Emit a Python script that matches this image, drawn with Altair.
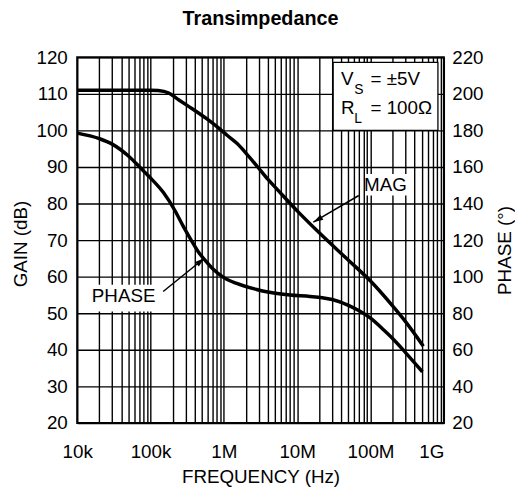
import altair as alt
import pandas as pd

# ---- data ----
mag_freq = [1e4, 3e4, 1e5, 1.27e5, 1.74e5, 2.37e5, 3.23e5, 4.41e5, 6.01e5, 8.2e5, 1.12e6,
            1.52e6, 2e6, 2.84e6, 4e6, 5e6, 1e7, 2e7, 5e7, 1e8, 2e8, 3e8, 5.25e8]
mag_gain = [111, 111, 111, 110.9, 110.3, 108.5, 106.7, 104.9, 103.0, 100.9, 98.6,
            96.4, 93.8, 90.2, 86.6, 84.5, 78, 72, 64.5, 58.8, 52.0, 47.7, 41]

phase_freq = [1e4, 2e4, 3e4, 5e4, 7.5e4, 1e5, 1.5e5, 2.15e5, 2.8e5, 3.58e5, 4.5e5,
              5.5e5, 7e5, 1e6, 1.5e6, 2.8e6, 4e6, 8e6, 1.5e7, 2.2e7, 3e7, 5e7,
              7e7, 1e8, 1.5e8, 2e8, 3e8, 5.1e8]
phase_deg = [178.5, 175.5, 172.5, 166, 159, 154, 146, 136.2, 127.5, 120, 113.5,
             109.2, 104.5, 99.5, 96.3, 93, 91.6, 90, 89.2, 88.5, 87.5, 84.3,
             81.3, 77.3, 71, 66.2, 58.5, 48]

x_ticks = [float(m * 10 ** e) for e in range(4, 9) for m in range(1, 10)] + [1e9]
x_names = ["10k", "100k", "1M", "10M", "100M", "1G"]
gain_ticks = list(range(20, 121, 10))
phase_ticks = list(range(20, 221, 20))

# annotations (in data coordinates: frequency, gain dB)
legend_box = pd.DataFrame({"f1": [3.1e7], "f2": [8.3e8], "g1": [100], "g2": [118.6]})
label_boxes = pd.DataFrame({"f1": [8.5e7, 1.24e4], "f2": [3.27e8, 1.4e5],
                            "g1": [82.2, 50.5], "g2": [88.1, 57.8]})
labels = pd.DataFrame({"f": [1.6e8, 4.3e4], "g": [83.5, 52.97], "t": ["MAG", "PHASE"]})
arrows = pd.DataFrame({"f1": [6.93e7, 1.488e5], "g1": [82.2, 55.95],
                       "f2": [1.66e7, 5.47e5], "g2": [74.9, 65.1],
                       "ang": [239.6, 51.0]})
leg_main = pd.DataFrame({"f": [3.96e7, 1e8, 3.96e7, 1e8], "g": [112.35, 112.35, 104.5, 104.5],
                         "t": ["V", "= \u00b15V", "R", "= 100\u03a9"]})
leg_sub = pd.DataFrame({"f": [5.99e7, 5.99e7], "g": [110.08, 102.0], "t": ["S", "L"]})

FONT = "Liberation Sans"
FS = 19

label_expr = "".join(
    f"abs(log(datum.value) / log(10) - {i + 4}) < 0.001 ? '{n}' : "
    for i, n in enumerate(x_names)) + "''"

xscale = alt.Scale(type="log", domain=[1e4, 1e9])
gscale = alt.Scale(domain=[20, 120], nice=False, zero=False)
pscale = alt.Scale(domain=[20, 220], nice=False, zero=False)

x_axis = alt.Axis(values=x_ticks, grid=True, gridColor="black", gridWidth=1.4, gridOpacity=1,
                  ticks=False, domain=False, labelExpr=label_expr, labelFontSize=FS,
                  labelColor="black", labelPadding=20, labelFlush=False, labelOverlap=False,
                  labelAlign={"condition": {"test": "datum.value > 9.5e8", "value": "right"},
                              "value": "center"},
                  title="FREQUENCY (Hz)",
                  titleFontSize=FS, titleFontWeight="normal", titleColor="black",
                  titleX=185.5, titleY=60.5, titleBaseline="alphabetic", titleAlign="center")

g_axis = alt.Axis(values=gain_ticks, grid=True, gridColor="black", gridWidth=1.4, gridOpacity=1,
                  ticks=False, domain=False, labelFontSize=FS, labelPadding=10, labelColor="black",
                  labelFlush=False, title="GAIN (dB)", titleFontSize=FS, titleFontWeight="normal",
                  titleColor="black", titleAngle=270, titleX=-51, titleY=188.5,
                  titleBaseline="alphabetic", titleAlign="center")

p_axis = alt.Axis(orient="right", values=phase_ticks, grid=False, ticks=False, domain=False,
                  labelFontSize=FS, labelPadding=8, labelColor="black", labelFlush=False,
                  title="PHASE (\u00b0)", titleFontSize=FS, titleFontWeight="normal",
                  titleColor="black", titleAngle=270, titleX=67, titleY=195,
                  titleBaseline="alphabetic", titleAlign="center")


def gx(f):
    return alt.X(f, scale=xscale, axis=x_axis)


def gy(f):
    return alt.Y(f, scale=gscale, axis=None)


mag_df = pd.DataFrame({"freq": mag_freq, "gain": mag_gain})
phase_df = pd.DataFrame({"freq": phase_freq, "phase": phase_deg})

mag_line = alt.Chart(mag_df).mark_line(color="black", strokeWidth=3.5, interpolate="monotone").encode(
    x=gx("freq:Q"),
    y=alt.Y("gain:Q", scale=gscale, axis=g_axis),
)

phase_line = alt.Chart(phase_df).mark_line(color="black", strokeWidth=3.5, interpolate="monotone").encode(
    x=gx("freq:Q"),
    y=alt.Y("phase:Q", scale=pscale, axis=p_axis),
)

box = alt.Chart(legend_box).mark_rect(fill="white", stroke="black", strokeWidth=1.2).encode(
    x=gx("f1:Q"), x2="f2:Q", y=gy("g1:Q"), y2="g2:Q")
lbox = alt.Chart(label_boxes).mark_rect(fill="white").encode(
    x=gx("f1:Q"), x2="f2:Q", y=gy("g1:Q"), y2="g2:Q")
ltext = alt.Chart(labels).mark_text(font=FONT, fontSize=FS, align="center",
                                     baseline="alphabetic", color="black").encode(
    x=gx("f:Q"), y=gy("g:Q"), text="t:N")
arrow_lines = alt.Chart(arrows).mark_rule(color="black", strokeWidth=1.5).encode(
    x=gx("f1:Q"), x2="f2:Q", y=gy("g1:Q"), y2="g2:Q")
arrow_heads = alt.Chart(arrows).mark_point(shape="M0,0L0.3,1L-0.3,1Z", filled=True, color="black",
                                           opacity=1, size=400).encode(
    x=gx("f2:Q"), y=gy("g2:Q"), angle=alt.Angle("ang:Q", scale=None))
leg_t = alt.Chart(leg_main).mark_text(font=FONT, fontSize=FS, align="left",
                                       baseline="alphabetic", color="black").encode(
    x=gx("f:Q"), y=gy("g:Q"), text="t:N")
leg_s = alt.Chart(leg_sub).mark_text(font=FONT, fontSize=14, align="left",
                                      baseline="alphabetic", color="black").encode(
    x=gx("f:Q"), y=gy("g:Q"), text="t:N")

chart = alt.layer(mag_line, box, lbox, ltext, arrow_lines, arrow_heads, leg_t, leg_s,
                  phase_line).resolve_scale(y="independent").properties(
    width=371, height=370,
    autosize=alt.AutoSizeParams(type="none"),
    padding={"left": 70, "top": 47, "right": 72, "bottom": 66},
    title=alt.TitleParams("Transimpedance", fontSize=20, fontWeight="bold", font=FONT,
                          anchor="middle", frame="group", baseline="bottom", offset=0,
                          color="black"),
).configure(font=FONT).configure_view(stroke="black", strokeWidth=2)

chart.save("out.html", embed_options={"renderer": "svg", "actions": False})
